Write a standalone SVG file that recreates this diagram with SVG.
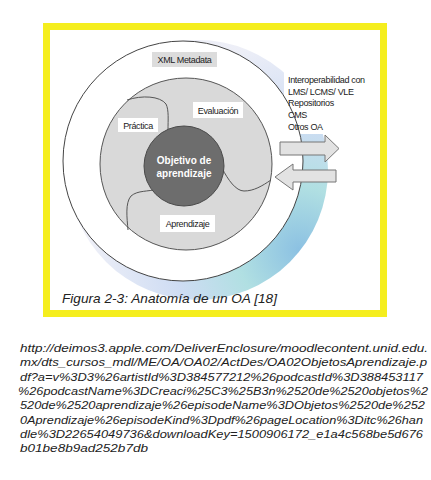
<svg xmlns="http://www.w3.org/2000/svg" width="431" height="480" viewBox="0 0 431 480">
<style>
.lbl{font-family:"Liberation Sans",Arial,sans-serif;font-size:9px;fill:#222;letter-spacing:-0.35px}
.box{fill:#fff}
.ln{fill:none;stroke:#555;stroke-width:1}
.url{font-family:"Liberation Sans",Arial,sans-serif;font-style:italic;font-size:11px;fill:#222}
.arr{fill:#e2e2e2;stroke:#777;stroke-width:1}
</style>
<defs>
<radialGradient id="glow" cx="300" cy="250" r="210" gradientUnits="userSpaceOnUse">
<stop offset="0" stop-color="#5aa6d6"/>
<stop offset="0.3" stop-color="#8fd2d6"/>
<stop offset="0.6" stop-color="#b9cdee"/>
<stop offset="1" stop-color="#e6e8f4"/>
</radialGradient>
</defs>
<rect width="431" height="480" fill="#fff"/>
<rect x="46.5" y="26.5" width="337" height="287" fill="#fff" stroke="#f5ee1e" stroke-width="7"/>
<circle cx="198" cy="170" r="130" fill="url(#glow)" opacity="0.7"/>
<rect x="284" y="70" width="92" height="64" fill="#fff"/>
<g id="outer">
<circle cx="183" cy="161" r="120" fill="#fff" stroke="#444" stroke-width="1"/>
</g>
<g id="inner">
<circle cx="186" cy="164" r="86" fill="#d9d9d9" stroke="#555" stroke-width="1"/>
</g>
<g id="dividers">
<path class="ln" d="M127,100 C142,95 160,96 166,104 C169,110 168,120 168,130"/>
<path class="ln" d="M222,168 C228,180 236,191 244,191 C254,191 262,186 271,180"/>
<path class="ln" d="M157,189 C148,192 138,190 131,196 C125,203 127,218 128,230"/>
</g>
<g id="objetivo">
<circle cx="184" cy="166" r="40" fill="#6d6d6d" stroke="#4a4a4a" stroke-width="1"/>
<text x="184" y="164" text-anchor="middle" font-family="Liberation Sans,Arial,sans-serif" font-weight="bold" font-size="10" fill="#fff">Objetivo de</text>
<text x="184" y="177" text-anchor="middle" font-family="Liberation Sans,Arial,sans-serif" font-weight="bold" font-size="10" fill="#fff">aprendizaje</text>
</g>
<g id="xml">
<rect x="152" y="52" width="65" height="15" fill="#dcdcdc"/>
<text class="lbl" x="184.5" y="63" text-anchor="middle">XML Metadata</text>
</g>
<g id="evaluacion">
<rect class="box" x="193" y="102" width="50" height="16"/>
<text class="lbl" x="218" y="113.5" text-anchor="middle">Evaluación</text>
</g>
<g id="practica">
<rect class="box" x="118" y="118" width="40" height="14"/>
<text class="lbl" x="138" y="128.5" text-anchor="middle">Práctica</text>
</g>
<g id="aprendizaje">
<rect class="box" x="160" y="215" width="55" height="17"/>
<text class="lbl" x="187.5" y="227" text-anchor="middle">Aprendizaje</text>
</g>
<g id="interop">
<text class="lbl" x="288" y="83">Interoperabilidad con</text>
<text class="lbl" x="288" y="94.5">LMS/ LCMS/ VLE</text>
<text class="lbl" x="288" y="106">Repositorios</text>
<text class="lbl" x="288" y="118">CMS</text>
<text class="lbl" x="288" y="130">Otros OA</text>
</g>
<g id="connectors">
<path class="arr" d="M280,142 H325 V135 L339,148.5 L325,162 V155 H280 Z"/>
<path class="arr" d="M336,170 H293 V164 L275,177 L293,190 V182 H336 Z"/>
</g>
<g id="caption">
<text x="62" y="303" font-family="Liberation Sans,Arial,sans-serif" font-style="italic" font-size="13" fill="#222" textLength="215" lengthAdjust="spacingAndGlyphs">Figura 2-3: Anatomía de un OA [18]</text>
</g>
<g id="url">
<text class="url" x="20" y="352" textLength="408" lengthAdjust="spacingAndGlyphs">http://deimos3.apple.com/DeliverEnclosure/moodlecontent.unid.edu.</text>
<text class="url" x="20" y="366" textLength="407" lengthAdjust="spacingAndGlyphs">mx/dts_cursos_mdl/ME/OA/OA02/ActDes/OA02ObjetosAprendizaje.p</text>
<text class="url" x="20" y="381" textLength="403" lengthAdjust="spacingAndGlyphs">df?a=v%3D3%26artistId%3D384577212%26podcastId%3D388453117</text>
<text class="url" x="18" y="395" textLength="410" lengthAdjust="spacingAndGlyphs">%26podcastName%3DCreaci%25C3%25B3n%2520de%2520objetos%2</text>
<text class="url" x="20" y="409" textLength="405" lengthAdjust="spacingAndGlyphs">520de%2520aprendizaje%26episodeName%3DObjetos%2520de%252</text>
<text class="url" x="20" y="424" textLength="403" lengthAdjust="spacingAndGlyphs">0Aprendizaje%26episodeKind%3Dpdf%26pageLocation%3Ditc%26han</text>
<text class="url" x="20" y="438" textLength="403" lengthAdjust="spacingAndGlyphs">dle%3D22654049736&amp;downloadKey=1500906172_e1a4c568be5d676</text>
<text class="url" x="20" y="452" textLength="128" lengthAdjust="spacingAndGlyphs">b01be8b9ad252b7db</text>
</g>
</svg>
